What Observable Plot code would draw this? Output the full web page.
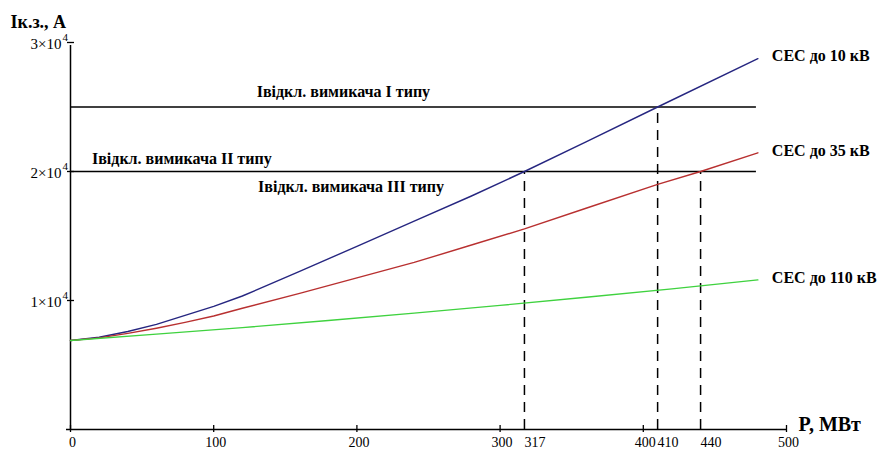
<!DOCTYPE html>
<html><head><meta charset="utf-8">
<script src="https://cdn.jsdelivr.net/npm/d3@7"></script>
<script src="https://cdn.jsdelivr.net/npm/@observablehq/plot@0.6"></script>
<style>body{margin:0;background:#fff}</style>
</head><body><div id="chart"></div>
<script>
const pBlue  = [0,20,40,60,80,100,120,160,200,240,280,317,360,410,480];
const iBlue  = [6900,7150,7600,8150,8850,9550,10350,12250,14200,16150,18100,20000,22300,25000,28750];
const pRed   = [0,20,40,60,80,100,120,160,200,240,280,317,360,410,440,480];
const iRed   = [6900,7100,7450,7850,8300,8800,9400,10550,11750,12950,14300,15550,17150,19000,20000,21450];
const pGreen = [0,60,120,180,240,300,360,420,480];
const iGreen = [6900,7390,7900,8450,9020,9620,10250,10900,11600];
const seriesNames = ["СЕС до 10 кВ","СЕС до 35 кВ","СЕС до 110 кВ"];
const thresholds = [25000, 20000];
const thresholdEnd = 479;
const thresholdLabels = ["Івідкл. вимикача І типу","Івідкл. вимикача ІІ типу","Івідкл. вимикача ІІІ типу"];
const crossP = [317, 410, 440];
const crossI = [20000, 25000, 20000];
const xTicks = [0,100,200,300,400,500];
const yTicks = [10000,20000,30000];
const yTickMantissa = ["1×10","2×10","3×10"];
const yTickExp = "4";
const xTitle = "P, МВт";
const yTitle = "Iк.з., А";

const serif = "Liberation Serif, Times New Roman, serif";
const colors = ["#262680", "#b83030", "#3fd23f"];
const series = [
  pBlue.map((p,i)=>({p, v:iBlue[i], s:0})),
  pRed.map((p,i)=>({p, v:iRed[i], s:1})),
  pGreen.map((p,i)=>({p, v:iGreen[i], s:2}))
];
const ends = series.map(a => a[a.length-1]);
const labelDy = [-3, -2, -2];

const chart = Plot.plot({
  width: 878, height: 450,
  marginLeft: 70, marginRight: 92, marginTop: 42, marginBottom: 21,
  x: {domain: [0, 500], axis: null},
  y: {domain: [0, 30000], axis: null},
  style: {fontFamily: serif, background: "#fff", color: "#000"},
  marks: [
    // axes lines
    Plot.ruleY([0], {x1: 0, x2: 500, stroke: "#000", strokeWidth: 1.5, insetLeft: -4}),
    Plot.ruleX([0], {y1: 0, y2: 30000, stroke: "#000", strokeWidth: 1.5, insetBottom: -3}),
    // x ticks
    Plot.ruleX(xTicks, {x: d=>d, y1: 0, y2: 0, insetTop: -4, insetBottom: -3, stroke: "#000", strokeWidth: 1.3}),
    // y ticks
    Plot.ruleY(yTicks, {y: d=>d, x1: 0, x2: 0, insetLeft: -3, insetRight: -4, stroke: "#000", strokeWidth: 1.3}),
    // x tick labels
    Plot.text(xTicks, {x: d=>d, y: 0, text: d=>String(d), dx: 2, dy: 13, fontSize: 14}),
    Plot.text(crossP, {x: d=>d, y: 0, text: d=>String(d), textAnchor: "start", dx: 0, dy: 13, fontSize: 14}),
    // y tick labels
    Plot.text(yTicks, {x: 0, y: d=>d, text: (d,i)=>yTickMantissa[i], textAnchor: "end", dx: -9, dy: 2, fontSize: 15}),
    Plot.text(yTicks, {x: 0, y: d=>d, text: ()=>yTickExp, textAnchor: "start", dx: -8, dy: -5, fontSize: 11}),
    // titles
    Plot.text([yTitle], {frameAnchor: "top-left", text: d=>d, textAnchor: "start", dx: -60, dy: -27, fontSize: 18, fontWeight: "bold"}),
    Plot.text([xTitle], {x: 500, y: 0, text: d=>d, textAnchor: "start", dx: 12, dy: -5, fontSize: 20, fontWeight: "bold"}),
    // threshold lines
    Plot.ruleY(thresholds, {y: d=>d, x1: 0, x2: thresholdEnd, stroke: "#000", strokeWidth: 1.3}),
    // dashed drop lines
    Plot.ruleX(crossP, {x: d=>d, y1: 0, y2: (d,i)=>crossI[i], stroke: "#000", strokeWidth: 1.5, strokeDasharray: "10,7"}),
    // curves
    ...series.map((a,k) => Plot.line(a, {x: "p", y: "v", stroke: colors[k], strokeWidth: 1.4})),
    // series labels
    ...ends.map((e,k) => Plot.text([e], {x: "p", y: "v", text: d=>seriesNames[d.s], textAnchor: "start", dx: 14, dy: labelDy[k], fontSize: 16, fontWeight: "bold"})),
    // threshold labels
    Plot.text([thresholdLabels[0]], {x: 130, y: thresholds[0], text: d=>d, textAnchor: "start", dy: -15, fontSize: 16, fontWeight: "bold"}),
    Plot.text([thresholdLabels[1]], {x: 15, y: thresholds[1], text: d=>d, textAnchor: "start", dy: -13, fontSize: 16, fontWeight: "bold"}),
    Plot.text([thresholdLabels[2]], {x: 131, y: thresholds[1], text: d=>d, textAnchor: "start", dy: 15, fontSize: 16, fontWeight: "bold"})
  ]
});
document.getElementById("chart").appendChild(chart);
</script>
</body></html>
